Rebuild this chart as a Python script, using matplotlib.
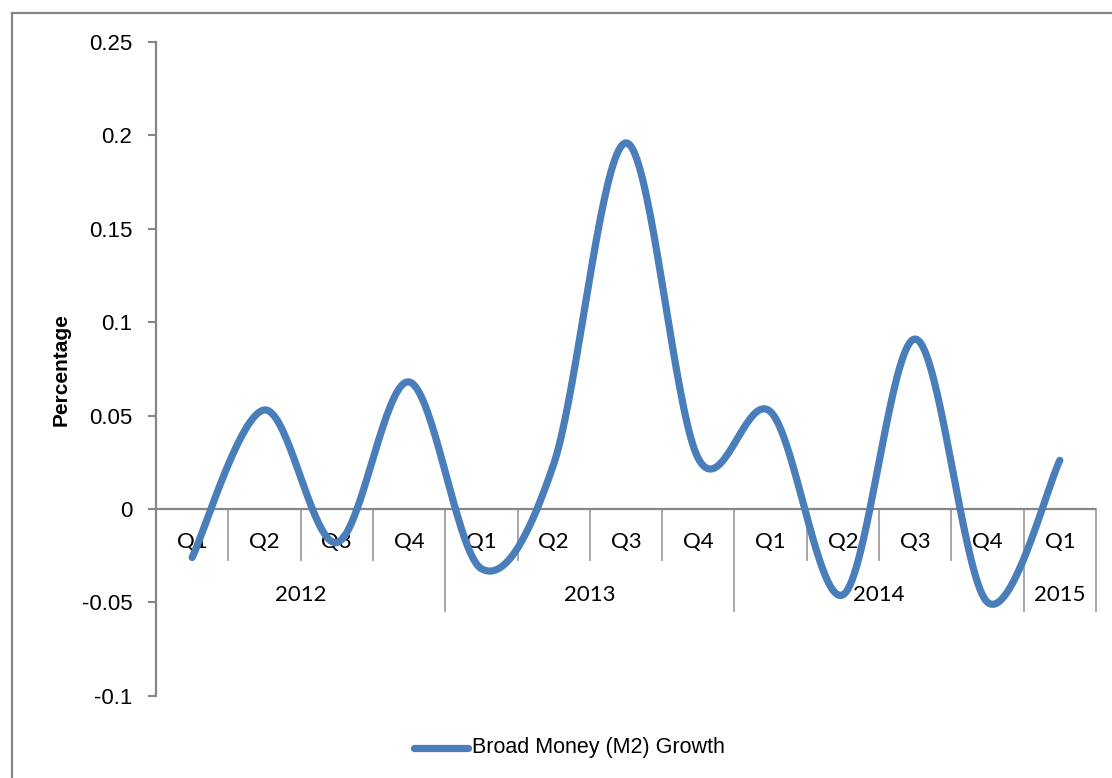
import numpy as np
import matplotlib
matplotlib.use("Agg")
import matplotlib.pyplot as plt
from matplotlib.lines import Line2D
from matplotlib.transforms import blended_transform_factory

quarters = ["Q1", "Q2", "Q3", "Q4", "Q1", "Q2", "Q3", "Q4", "Q1", "Q2", "Q3", "Q4", "Q1"]
years = ["2012", "2013", "2014", "2015"]
year_sizes = [4, 4, 4, 1]
m2_growth = [-0.026, 0.053, -0.018, 0.068,
             -0.032, 0.024, 0.196, 0.027,
             0.052, -0.046, 0.091, -0.050,
             0.026]
series_name = "Broad Money (M2) Growth"
y_ticks = [-0.1, -0.05, 0, 0.05, 0.1, 0.15, 0.2, 0.25]
y_tick_labels = ["-0.1", "-0.05", "0", "0.05", "0.1", "0.15", "0.2", "0.25"]

W, H = 1112, 778
fig = plt.figure(figsize=(W / 100, H / 100), dpi=100)
ax = fig.add_axes([156 / W, 1 - 695.7 / H, (1096 - 156) / W, (695.7 - 42) / H])

LINE_C = "#4A7EBB"
GRID_C = "#868686"


def smooth(xs, ys, n=40):
    xs = np.asarray(xs, float)
    ys = np.asarray(ys, float)
    P = np.column_stack([xs, ys])
    out = []
    for i in range(len(P) - 1):
        p0 = P[i - 1] if i > 0 else P[i]
        p1 = P[i]
        p2 = P[i + 1]
        p3 = P[i + 2] if i + 2 < len(P) else P[i + 1]
        c1 = p1 + (p2 - p0) / 6.0
        c2 = p2 - (p3 - p1) / 6.0
        t = np.linspace(0, 1, n)[:, None]
        seg = ((1 - t) ** 3) * p1 + 3 * ((1 - t) ** 2) * t * c1 + 3 * (1 - t) * t ** 2 * c2 + t ** 3 * p2
        if i > 0:
            seg = seg[1:]
        out.append(seg)
    out = np.vstack(out)
    return out[:, 0], out[:, 1]


xs = np.arange(len(m2_growth))
sx, sy = smooth(xs, m2_growth)
ax.plot(sx, sy, color=LINE_C, lw=5.2, solid_capstyle="round", zorder=3)

ax.set_xlim(-0.5, len(m2_growth) - 0.5)
ax.set_ylim(-0.1, 0.25)
ax.set_yticks(y_ticks)
ax.set_yticklabels(y_tick_labels, fontfamily="Liberation Sans", fontsize=16)
ax.tick_params(axis="y", direction="out", length=6, width=1.5, color=GRID_C, pad=11)
ax.set_xticks([])
for s in ["top", "right", "bottom"]:
    ax.spines[s].set_visible(False)
ax.spines["left"].set_color(GRID_C)
ax.spines["left"].set_linewidth(1.6)

# category axis at zero
ax.axhline(0, color=GRID_C, lw=1.6, zorder=2)
tr = blended_transform_factory(ax.transData, ax.transAxes)
ax_h = 695.7 - 42
zero_frac = (0 - (-0.1)) / 0.35
q_bot = (695.7 - 560) / ax_h
y_bot = (695.7 - 611) / ax_h
q_lab = (695.7 - 542) / ax_h
y_lab = (695.7 - 595) / ax_h

year_bounds = np.cumsum(year_sizes) - 0.5
for b in np.arange(0.5, len(m2_growth) - 0.5, 1.0):
    if b in year_bounds:
        continue
    ax.add_line(Line2D([b, b], [zero_frac, q_bot], transform=tr, color="#A0A0A0", lw=1.3, zorder=1, clip_on=False))
for b in year_bounds:
    ax.add_line(Line2D([b, b], [zero_frac, y_bot], transform=tr, color="#A0A0A0", lw=1.3, zorder=1, clip_on=False))

for i, q in enumerate(quarters):
    ax.text(i, q_lab, q, transform=tr, ha="center", va="center", fontfamily="Lato", fontsize=16, zorder=1)
start = 0
for yname, size in zip(years, year_sizes):
    ax.text(start + (size - 1) / 2, y_lab, yname, transform=tr, ha="center", va="center",
            fontfamily="Lato", fontsize=16, zorder=1)
    start += size

fig.text(61 / W, 1 - 370 / H, "Percentage", rotation=90, ha="center", va="center",
         fontfamily="Liberation Sans", fontweight="bold", fontsize=15)

# legend
fig.add_artist(Line2D([414 / W, 468 / W], [1 - 747.7 / H, 1 - 747.7 / H], color=LINE_C, lw=5.2,
                      solid_capstyle="round"))
fig.text(472 / W, 1 - 747.7 / H, series_name, ha="left", va="center",
         fontfamily="Liberation Sans", fontsize=15.5)

# outer chart frame (left and top visible)
fig.add_artist(Line2D([11.5 / W, 11.5 / W], [0, 1 - 13 / H], color=GRID_C, lw=1.6))
fig.add_artist(Line2D([11.5 / W, 1], [1 - 13 / H, 1 - 13 / H], color=GRID_C, lw=1.6))

fig.savefig("out.png", dpi=100)
